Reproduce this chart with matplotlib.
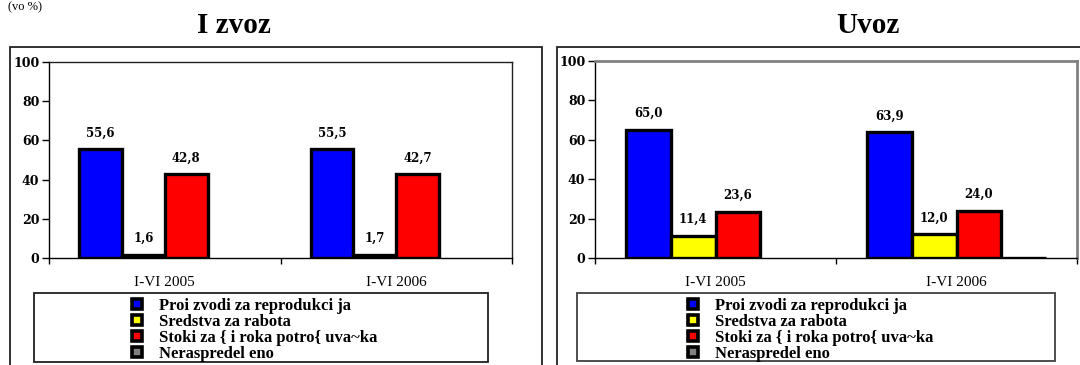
import matplotlib
matplotlib.use("Agg")
import matplotlib.pyplot as plt
import numpy as np
from matplotlib.patches import Rectangle
from matplotlib.lines import Line2D

# ---- data ----
categories = ["I-VI 2005", "I-VI 2006"]
series_names = ["Proi zvodi za reprodukci ja", "Sredstva za rabota",
                "Stoki za { i roka potro{ uva~ka", "Neraspredel eno"]
series_colors = ["#0000FF", "#FFFF00", "#FF0000", "#808080"]
izvoz_values = [[55.6, 55.5], [1.6, 1.7], [42.8, 42.7], [0.0, 0.0]]
uvoz_values = [[65.0, 63.9], [11.4, 12.0], [23.6, 24.0], [0.0, 0.1]]
y_ticks = [0, 20, 40, 60, 80, 100]
titles = ["I zvoz", "Uvoz"]

W, H = 1080, 365
fig = plt.figure(figsize=(W / 100, H / 100), dpi=100)


def fx(x):
    return x / W


def fy(y):
    return 1 - y / H


def fig_rect(x0, y0, x1, y1, color, lw):
    r = Rectangle((fx(x0), fy(y1)), fx(x1) - fx(x0), (y1 - y0) / H,
                  transform=fig.transFigure, fill=False, edgecolor=color,
                  linewidth=lw, clip_on=False)
    fig.add_artist(r)


# unit label at top-left
fig.text(fx(8), fy(1), "(vo %)", fontsize=9, family="Liberation Serif",
         va="top", ha="left")

# outer frames
fig_rect(10, 47, 542, 400, "#222222", 1.3)
fig_rect(557, 47, 1200, 400, "#222222", 1.3)

panels = [
    dict(values=izvoz_values, ax=(49, 62, 512, 258), title_x=234,
         frame_color="#202020", frame_lw=1.0,
         leg_box=(34, 293, 488, 362), leg_box_color="#202020", leg_x=129),
    dict(values=uvoz_values, ax=(595, 61, 1077, 258), title_x=868,
         frame_color="#808080", frame_lw=2.0,
         leg_box=(577, 293, 1055, 361), leg_box_color="#404040", leg_x=685),
]

n_series = len(series_names)
bar_w = 0.185
x = np.arange(len(categories))

for p, title in zip(panels, titles):
    x0, y0, x1, y1 = p["ax"]
    ax = fig.add_axes([fx(x0), fy(y1), fx(x1) - fx(x0), (y1 - y0) / H])
    for i, (vals, col) in enumerate(zip(p["values"], series_colors)):
        offs = (i - (n_series - 1) / 2) * bar_w
        lws = [2.4 if v > 0 else 0 for v in vals]
        bars = ax.bar(x + offs, vals, width=bar_w, color=col,
                      edgecolor="black", linewidth=lws, zorder=3)
        for b, v in zip(bars, vals):
            if v >= 0.5:
                ax.annotate(f"{v:.1f}".replace(".", ","),
                            (b.get_x() + b.get_width() / 2, v),
                            xytext=(0, 7), textcoords="offset points",
                            ha="center", va="bottom", fontsize=8.5,
                            family="DejaVu Serif", fontweight="bold")
    ax.set_xlim(-0.5, len(categories) - 0.5)
    ax.set_ylim(0, 100)
    ax.set_yticks(y_ticks)
    ax.set_yticklabels([str(t) for t in y_ticks], family="DejaVu Serif",
                       fontweight="bold", fontsize=9)
    ax.tick_params(axis="y", direction="out", length=5, width=1, pad=2)
    ax.set_xticks(x)
    ax.set_xticklabels(categories, family="Liberation Serif", fontsize=11)
    ax.set_xticks(np.arange(len(categories) + 1) - 0.5, minor=True)
    ax.tick_params(axis="x", which="major", length=0, pad=13)
    ax.tick_params(axis="x", which="minor", length=4, width=1, direction="out")
    for s in ["left", "bottom"]:
        ax.spines[s].set_color("black")
        ax.spines[s].set_linewidth(1.0)
    for s in ["top", "right"]:
        ax.spines[s].set_color(p["frame_color"])
        ax.spines[s].set_linewidth(p["frame_lw"])

    fig.text(fx(p["title_x"]), fy(33), title, ha="center", va="baseline",
             fontsize=21, family="Liberation Serif", fontweight="bold")

    lx0, ly0, lx1, ly1 = p["leg_box"]
    fig_rect(lx0, ly0, lx1, ly1, p["leg_box_color"], 1.3)
    handles = [Line2D([], [], linestyle="none", marker="s", markersize=7,
                      markerfacecolor=c, markeredgecolor="black",
                      markeredgewidth=2.6) for c in series_colors]
    fig.legend(handles, series_names, loc="upper left",
               bbox_to_anchor=(fx(p["leg_x"]), fy(298)),
               frameon=False, borderpad=0, borderaxespad=0,
               handlelength=1.0, handletextpad=0.82, labelspacing=0.0,
               prop=dict(family="Liberation Serif", weight="bold", size=12))

fig.savefig("out.png", dpi=100)
